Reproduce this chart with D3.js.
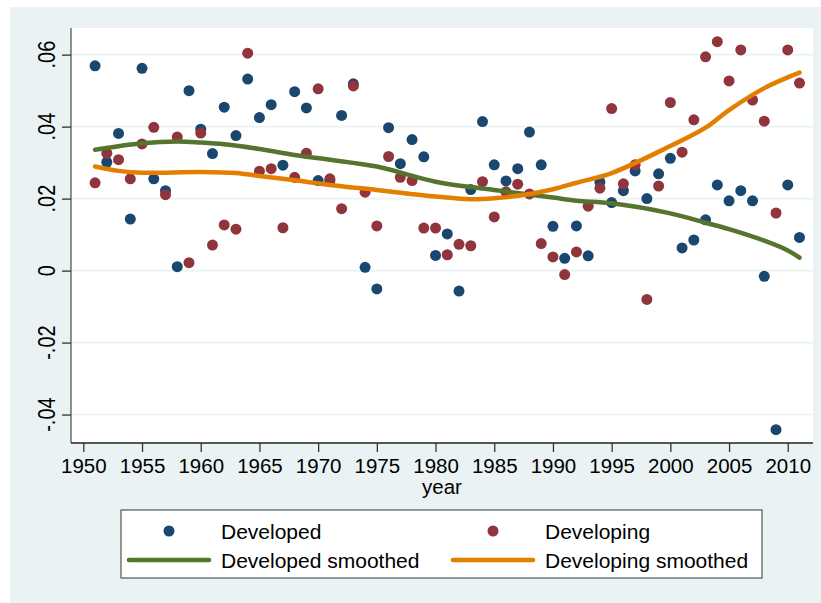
<!DOCTYPE html>
<html>
<head>
<meta charset="utf-8">
<script src="https://cdn.jsdelivr.net/npm/d3@7"></script>
<style>
    body { margin: 0; background: #ffffff; }
    text { font-family: "Liberation Sans", Arial, sans-serif; fill: #000; }
</style>
</head>
<body>
<div id="chart"></div>
<script>
// years of the scatter
var years = d3.range(1951, 2012);

var developed = [
    0.0569, 0.0301, 0.0381, 0.0143, 0.0562, 0.0255, 0.0222, 0.0011, 0.0500, 0.0393,
    0.0325, 0.0454, 0.0375, 0.0532, 0.0425, 0.0461, 0.0293, 0.0497, 0.0452, 0.0250,
    0.0250, 0.0431, 0.0519, 0.0009, -0.0051, 0.0397, 0.0297, 0.0364, 0.0316, 0.0042,
    0.0102, -0.0057, 0.0225, 0.0414, 0.0294, 0.0249, 0.0283, 0.0385, 0.0294, 0.0123,
    0.0034, 0.0124, 0.0041, 0.0246, 0.0189, 0.0222, 0.0277, 0.0200, 0.0269, 0.0312,
    0.0063, 0.0085, 0.0141, 0.0238, 0.0194, 0.0222, 0.0194, -0.0016, -0.0442, 0.0238,
    0.0092
];

var developing = [
    0.0244, 0.0326, 0.0308, 0.0255, 0.0352, 0.0398, 0.0211, 0.0371, 0.0022, 0.0382,
    0.0071, 0.0127, 0.0115, 0.0604, 0.0276, 0.0283, 0.0119, 0.0259, 0.0326, 0.0505,
    0.0255, 0.0172, 0.0513, 0.0218, 0.0124, 0.0317, 0.0259, 0.0250, 0.0118, 0.0118,
    0.0044, 0.0073, 0.0069, 0.0247, 0.0149, 0.0219, 0.0240, 0.0213, 0.0075, 0.0038,
    -0.0011, 0.0052, 0.0179, 0.0229, 0.0450, 0.0241, 0.0294, -0.0080, 0.0235, 0.0467,
    0.0329, 0.0419, 0.0594, 0.0636, 0.0527, 0.0613, 0.0474, 0.0415, 0.0160, 0.0613,
    0.0521
];

var smoothYearsDev = [1951, 1955, 1958, 1960, 1962, 1965, 1968, 1971, 1975, 1980, 1985, 1990, 1992, 1995, 2000, 2003, 2005, 2008, 2010, 2011];
var smoothDev = [0.0336, 0.0354, 0.0359, 0.0356, 0.0351, 0.0338, 0.0321, 0.0308, 0.0289, 0.0247, 0.0224, 0.0203, 0.0194, 0.0187, 0.0159, 0.0133, 0.0115, 0.0083, 0.0056, 0.0036];

var smoothYearsDvg = [1951, 1953, 1955, 1960, 1963, 1965, 1968, 1971, 1975, 1980, 1983, 1985, 1988, 1990, 1992, 1995, 2000, 2003, 2005, 2008, 2010, 2011];
var smoothDvg = [0.0289, 0.0277, 0.0272, 0.0274, 0.0271, 0.0263, 0.0251, 0.0238, 0.0224, 0.0206, 0.0198, 0.0201, 0.0213, 0.0226, 0.0244, 0.0271, 0.0346, 0.0397, 0.0446, 0.0507, 0.0537, 0.0550];

var xTicks = d3.range(1950, 2011, 5);
var yTicks = [-0.04, -0.02, 0, 0.02, 0.04, 0.06];
var yTickLabels = ["-.04", "-.02", "0", ".02", ".04", ".06"];

var legendItems = [
    { label: "Developed", kind: "dot", color: "#1a476f" },
    { label: "Developing", kind: "dot", color: "#90353b" },
    { label: "Developed smoothed", kind: "line", color: "#55752f" },
    { label: "Developing smoothed", kind: "line", color: "#e37e00" }
];

var width = 821,
    height = 603;

var plot = { left: 71, right: 813, top: 28, bottom: 443 };

var svg = d3.select("#chart").append("svg")
    .attr("width", width)
    .attr("height", height);

// outer graph region
svg.append("rect")
    .attr("x", 10).attr("y", 7)
    .attr("width", width - 10).attr("height", height - 7)
    .attr("fill", "#eaf2f3");

svg.append("rect")
    .attr("x", plot.left).attr("y", plot.top)
    .attr("width", plot.right - plot.left).attr("height", plot.bottom - plot.top)
    .attr("fill", "#ffffff");

var x = d3.scaleLinear()
    .domain([1948.95, 2012.15])
    .range([plot.left, plot.right]);

var y = d3.scaleLinear()
    .domain([-0.0479, 0.0674])
    .range([plot.bottom, plot.top]);

// gridlines
svg.append("g")
    .selectAll("line")
    .data(yTicks)
    .join("line")
    .attr("x1", plot.left)
    .attr("x2", plot.right)
    .attr("y1", d => y(d))
    .attr("y2", d => y(d))
    .attr("stroke", "#eaf2f3")
    .attr("stroke-width", 1.6);

// y axis
var yAxis = svg.append("g")
    .attr("transform", "translate(" + plot.left + ",0)")
    .call(d3.axisLeft(y).tickValues(yTicks).tickSize(9).tickFormat(""));
yAxis.select(".domain").attr("stroke", "#555").attr("stroke-width", 1.3)
    .attr("d", "M0," + plot.top + "V" + plot.bottom);
yAxis.selectAll(".tick line").attr("stroke", "#333").attr("stroke-width", 1.3);

svg.append("g")
    .selectAll("text")
    .data(yTicks)
    .join("text")
    .attr("transform", d => "translate(55," + y(d) + ") rotate(-90) scale(1,1.15)")
    .attr("text-anchor", "middle")
    .style("font-size", "20px")
    .text((d, i) => yTickLabels[i]);

// x axis
var xAxis = svg.append("g")
    .attr("transform", "translate(0," + plot.bottom + ")")
    .call(d3.axisBottom(x).tickValues(xTicks).tickSize(9).tickPadding(6).tickFormat(d3.format("d")));
xAxis.select(".domain").attr("stroke", "#222").attr("stroke-width", 1.3)
    .attr("d", "M" + plot.left + ",0H" + plot.right);
xAxis.selectAll(".tick line").attr("stroke", "#333").attr("stroke-width", 1.3);
xAxis.selectAll(".tick text")
    .style("font-size", "20.5px")
    .style("font-family", "'Liberation Sans', Arial, sans-serif")
    .attr("fill", "#000");

svg.append("text")
    .attr("x", (plot.left + plot.right) / 2)
    .attr("y", 494)
    .attr("text-anchor", "middle")
    .style("font-size", "20.5px")
    .text("year");

// scatter points
svg.append("g")
    .selectAll("circle")
    .data(developed)
    .join("circle")
    .attr("cx", (d, i) => x(years[i]))
    .attr("cy", d => y(d))
    .attr("r", 5.5)
    .attr("fill", "#1a476f");

svg.append("g")
    .selectAll("circle")
    .data(developing)
    .join("circle")
    .attr("cx", (d, i) => x(years[i]))
    .attr("cy", d => y(d))
    .attr("r", 5.5)
    .attr("fill", "#90353b");

// smoothed lines
var line = d3.line()
    .x(d => x(d[0]))
    .y(d => y(d[1]))
    .curve(d3.curveCatmullRom);

svg.append("path")
    .datum(d3.zip(smoothYearsDev, smoothDev))
    .attr("d", line)
    .attr("fill", "none")
    .attr("stroke", "#55752f")
    .attr("stroke-width", 4.5)
    .attr("stroke-linecap", "round");

svg.append("path")
    .datum(d3.zip(smoothYearsDvg, smoothDvg))
    .attr("d", line)
    .attr("fill", "none")
    .attr("stroke", "#e37e00")
    .attr("stroke-width", 4.5)
    .attr("stroke-linecap", "round");

// legend
var legend = svg.append("g");
legend.append("rect")
    .attr("x", 121).attr("y", 510)
    .attr("width", 641).attr("height", 68)
    .attr("fill", "#ffffff")
    .attr("stroke", "#333")
    .attr("stroke-width", 1);

var cols = [129, 453],
    rows = [531, 560];

legendItems.forEach(function(item, i) {
    var cx = cols[i % 2],
        cy = rows[Math.floor(i / 2)];
    if (item.kind === "dot") {
        legend.append("circle")
            .attr("cx", cx + 40).attr("cy", cy)
            .attr("r", 5.5)
            .attr("fill", item.color);
    } else {
        legend.append("line")
            .attr("x1", cx).attr("x2", cx + 80)
            .attr("y1", cy).attr("y2", cy)
            .attr("stroke", item.color)
            .attr("stroke-width", 4.5)
            .attr("stroke-linecap", "round");
    }
    legend.append("text")
        .attr("x", cx + 92)
        .attr("y", cy + 7.5)
        .style("font-size", "21px")
        .text(item.label);
});
</script>
</body>
</html>
